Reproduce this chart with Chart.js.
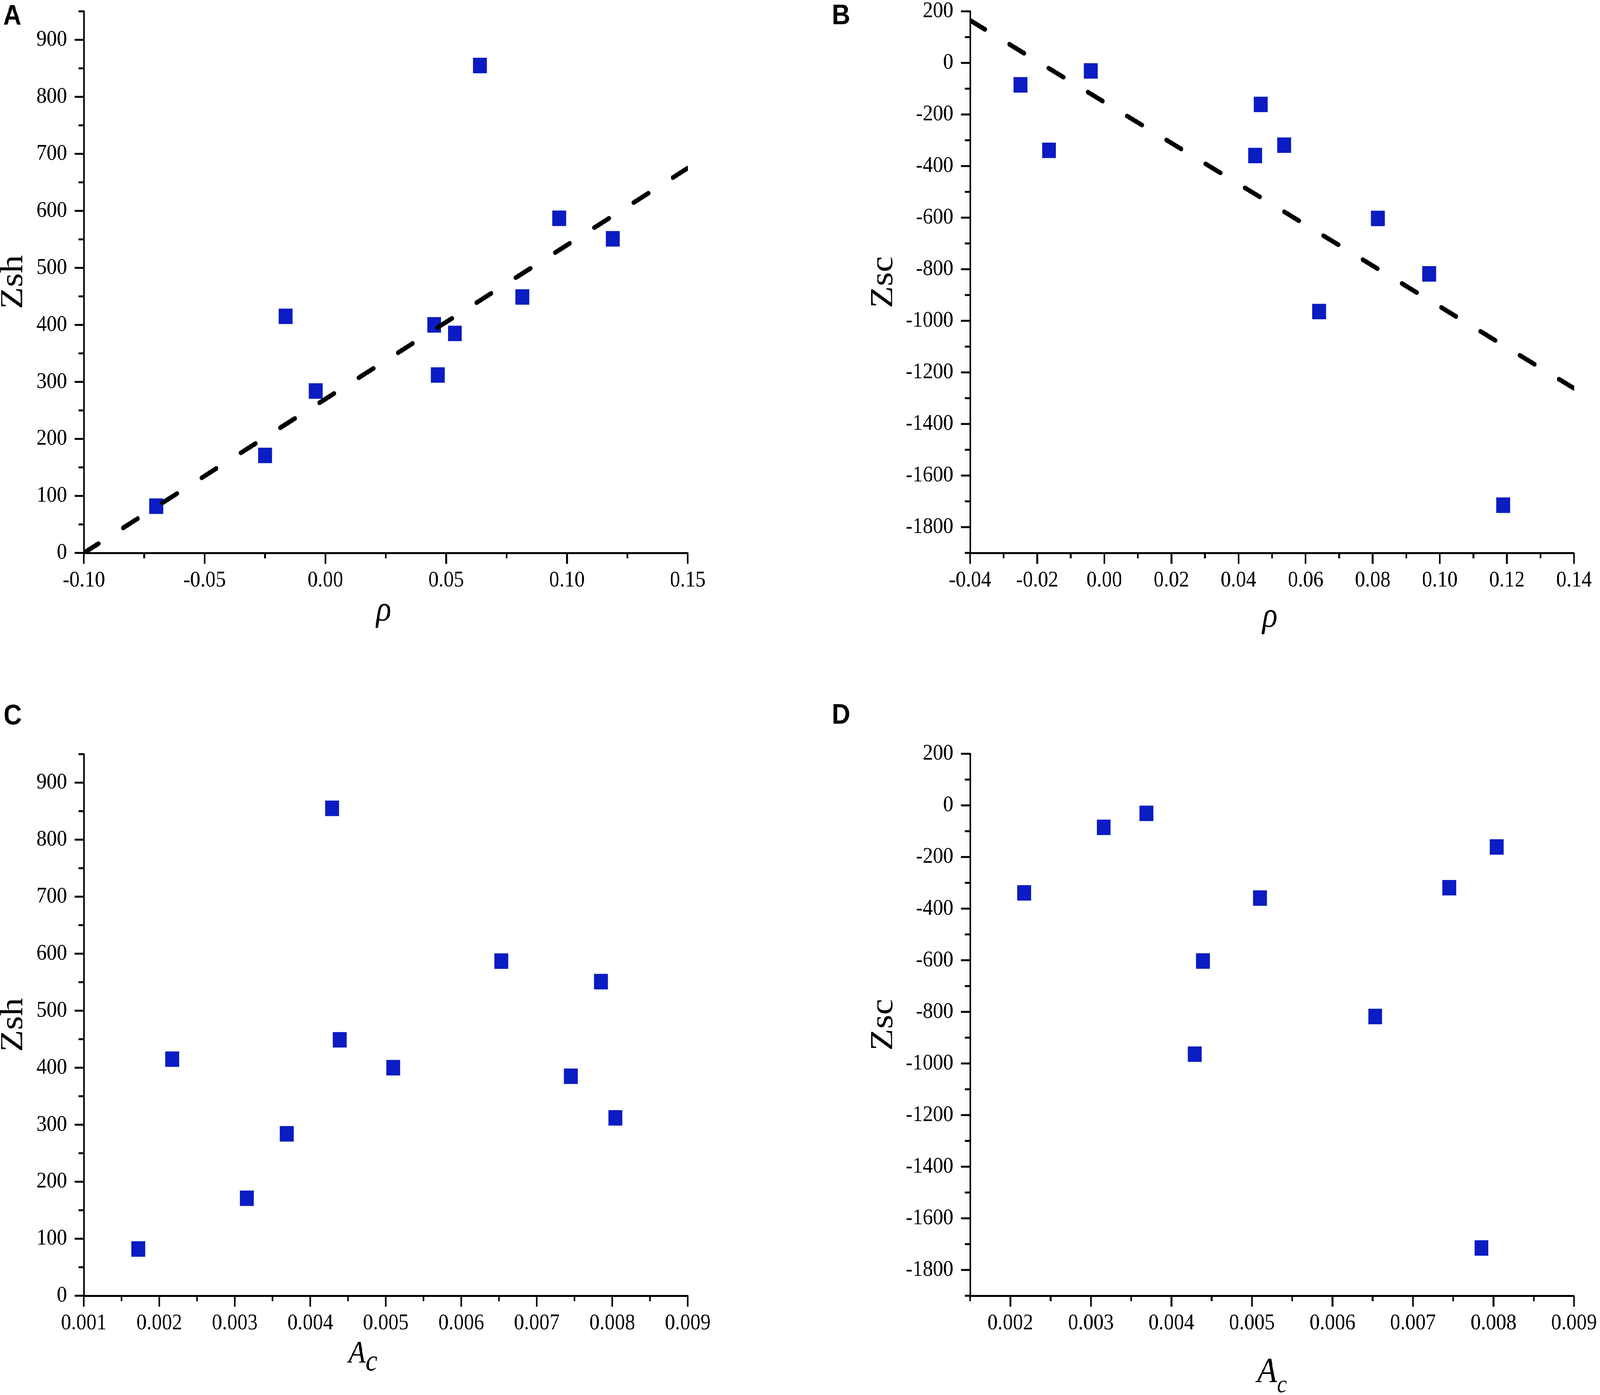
<!DOCTYPE html>
<html lang="pt-BR">
<head>
<meta charset="utf-8">
<title>Zsh e Zsc versus ρ e Ac</title>
<script src="https://cdn.jsdelivr.net/npm/chart.js@4.4.1/dist/chart.umd.min.js"></script>
<style>
    html, body { margin: 0; padding: 0; background: #fff; overflow: hidden; }
    #pagina { position: absolute; left: 0; top: 0; width: 4562px; height: 3570px; transform-origin: 0 0; background: #fff; }
    .painel { position: absolute; width: 2281px; height: 1785px; }
    #painelA { left: 0; top: 0; }
    #painelB { left: 2281px; top: 0; }
    #painelC { left: 0; top: 1785px; }
    #painelD { left: 2281px; top: 1785px; }
</style>
</head>
<body>
<div id="pagina">
    <div class="painel" id="painelA"><canvas id="chartA" width="2281" height="1785"></canvas></div>
    <div class="painel" id="painelB"><canvas id="chartB" width="2281" height="1785"></canvas></div>
    <div class="painel" id="painelC"><canvas id="chartC" width="2281" height="1785"></canvas></div>
    <div class="painel" id="painelD"><canvas id="chartD" width="2281" height="1785"></canvas></div>
</div>
<script>
/**
 * Dados das amostras
 * ======================================================================== */
const rho = [-0.070, -0.025, -0.0165, -0.004, 0.045, 0.0466, 0.0536, 0.064, 0.0815, 0.0968, 0.1189];
const ac = [0.00172, 0.00316, 0.00217, 0.00369, 0.00510, 0.00804, 0.00745, 0.00429, 0.00439, 0.00653, 0.00785];
const zsh = [82, 171, 415, 284, 400, 312, 385, 855, 449, 587, 551];
const zsc = [null, -85, -339, -31, -359, -161, -319, -964, -603, -818, -1715];

// Retas de ajuste (extremos)
const ajusteZshX = [-0.10, 0.15];
const ajusteZshY = [0, 675];
const ajusteZscX = [-0.04, 0.14];
const ajusteZscY = [165, -1262];

// Marcas dos eixos
const ticksRhoA = [-0.10, -0.05, 0.00, 0.05, 0.10, 0.15];
const ticksRhoB = [-0.04, -0.02, 0.00, 0.02, 0.04, 0.06, 0.08, 0.10, 0.12, 0.14];
const ticksAcC = [0.001, 0.002, 0.003, 0.004, 0.005, 0.006, 0.007, 0.008, 0.009];
const ticksAcD = [0.002, 0.003, 0.004, 0.005, 0.006, 0.007, 0.008, 0.009];
const ticksZsh = [0, 100, 200, 300, 400, 500, 600, 700, 800, 900];
const ticksZsc = [-1800, -1600, -1400, -1200, -1000, -800, -600, -400, -200, 0, 200];

document.addEventListener('DOMContentLoaded', function() {
    /**
     * Configurações Globais
     * ======================================================================== */
    const serif = '"Liberation Serif", "Times New Roman", Times, serif';
    const sans = '"Liberation Sans", Arial, sans-serif';
    const corPontos = '#0a1cc2';
    const fonteTicks = { family: serif, size: 58, lineHeight: 1.2 };

    // Ajusta a página de 4562x3570 à janela real (largura e altura)
    const escalaX = window.innerWidth / 4562;
    const escalaY = window.innerHeight / 3570;
    document.getElementById('pagina').style.transform = 'scale(' + escalaX + ', ' + escalaY + ')';
    const pixelRatio = (window.devicePixelRatio || 1) * Math.max(escalaX, escalaY);

    Chart.defaults.color = '#000';
    Chart.defaults.font.family = serif;

    // Marcas menores: meio de cada intervalo, e meio-passo nas pontas se couber
    const ticksMenores = (maiores, min, max) => {
        const passo = maiores[1] - maiores[0];
        const lista = [];
        const primeiro = maiores[0] - passo / 2;
        if (primeiro >= min - 1e-9) lista.push(primeiro);
        for (let i = 0; i < maiores.length - 1; i++) {
            lista.push((maiores[i] + maiores[i + 1]) / 2);
        }
        const ultimo = maiores[maiores.length - 1] + passo / 2;
        if (ultimo <= max + 1e-9) lista.push(ultimo);
        return lista;
    };

    const formata = (v, casas) => {
        if (Math.abs(v) < 1e-12) v = 0;
        return casas === 0 ? String(Math.round(v)) : v.toFixed(casas);
    };

    /**
     * Plugin: marcas, títulos dos eixos e letra do painel
     * ======================================================================== */
    const eixosPlugin = {
        id: 'eixos',
        afterDraw(chart, args, opts) {
            const ctx = chart.ctx;
            const area = chart.chartArea;
            const sx = chart.scales.x;
            const sy = chart.scales.y;

            const linha = (x1, y1, x2, y2) => {
                ctx.beginPath();
                ctx.moveTo(x1, y1);
                ctx.lineTo(x2, y2);
                ctx.stroke();
            };

            ctx.save();
            ctx.strokeStyle = '#000';
            ctx.lineWidth = 5;
            ctx.lineCap = 'butt';

            opts.yMaiores.forEach(v => {
                const y = sy.getPixelForValue(v);
                linha(area.left - 26, y, area.left, y);
            });
            ticksMenores(opts.yMaiores, sy.min, sy.max).forEach(v => {
                const y = sy.getPixelForValue(v);
                linha(area.left - 15, y, area.left, y);
            });
            opts.xMaiores.forEach(v => {
                const x = sx.getPixelForValue(v);
                linha(x, area.bottom, x, area.bottom + 28);
            });
            ticksMenores(opts.xMaiores, sx.min, sx.max).forEach(v => {
                const x = sx.getPixelForValue(v);
                linha(x, area.bottom, x, area.bottom + 14);
            });
            ctx.restore();

            // Título do eixo Y (girado)
            ctx.save();
            ctx.fillStyle = '#000';
            ctx.font = '92px ' + serif;
            ctx.textAlign = 'center';
            ctx.textBaseline = 'middle';
            ctx.translate(area.left - opts.yTitulo.offset, (area.top + area.bottom) / 2);
            ctx.rotate(-Math.PI / 2);
            ctx.fillText(opts.yTitulo.texto, 0, 0);
            ctx.restore();

            // Título do eixo X (com subscrito opcional)
            const t = opts.xTitulo;
            ctx.save();
            ctx.fillStyle = '#000';
            ctx.textAlign = 'left';
            ctx.textBaseline = 'alphabetic';
            ctx.font = t.fonte;
            const larguraTexto = ctx.measureText(t.texto).width;
            let larguraSub = 0;
            if (t.sub) {
                ctx.font = t.fonteSub;
                larguraSub = ctx.measureText(t.sub).width;
            }
            const x0 = (area.left + area.right) / 2 + t.dx - (larguraTexto + larguraSub) / 2;
            const y0 = area.bottom + t.base;
            ctx.font = t.fonte;
            ctx.fillText(t.texto, x0, y0);
            if (t.sub) {
                ctx.font = t.fonteSub;
                ctx.fillText(t.sub, x0 + larguraTexto, y0 + t.dy);
            }

            // Letra do painel
            ctx.font = 'bold 72px ' + sans;
            ctx.fillText(opts.letra.texto, opts.letra.x, opts.letra.y);
            ctx.restore();
        }
    };

    /**
     * Gráficos
     * ======================================================================== */
    const criaPontos = (xs, ys) => xs
        .map((x, i) => ({ x: x, y: ys[i] }))
        .filter(p => p.y !== null && p.y !== undefined);

    const criaEscalaX = (min, max, valores, casas, altura) => ({
        type: 'linear',
        position: 'bottom',
        min: min,
        max: max,
        afterBuildTicks: (escala) => { escala.ticks = valores.map(v => ({ value: v })); },
        afterFit: (escala) => {
            escala.height = altura;
            escala.paddingLeft = 0;
            escala.paddingRight = 0;
        },
        grid: { display: true, drawOnChartArea: false, drawTicks: false },
        border: { display: true, color: '#000', width: 5 },
        ticks: {
            autoSkip: false,
            maxRotation: 0,
            minRotation: 0,
            padding: 36,
            color: '#000',
            font: fonteTicks,
            callback: (v) => formata(v, casas)
        }
    });

    const criaEscalaY = (min, max, valores, largura) => ({
        type: 'linear',
        position: 'left',
        min: min,
        max: max,
        afterBuildTicks: (escala) => { escala.ticks = valores.map(v => ({ value: v })); },
        afterFit: (escala) => {
            escala.width = largura;
            escala.paddingTop = 0;
            escala.paddingBottom = 0;
        },
        grid: { display: true, drawOnChartArea: false, drawTicks: false },
        border: { display: true, color: '#000', width: 5 },
        ticks: {
            autoSkip: false,
            padding: 48,
            color: '#000',
            font: fonteTicks,
            callback: (v) => formata(v, 0)
        }
    });

    const initPainel = (cfg) => {
        const ctx = document.getElementById(cfg.id).getContext('2d');
        const datasets = [];

        if (cfg.ajusteX) {
            datasets.push({
                label: 'ajuste',
                data: criaPontos(cfg.ajusteX, cfg.ajusteY),
                showLine: true,
                borderColor: '#000',
                borderWidth: 12,
                borderDash: cfg.traco,
                borderCapStyle: 'round',
                pointRadius: 0,
                pointHoverRadius: 0,
                fill: false,
                order: 0
            });
        }

        datasets.push({
            label: 'amostras',
            data: criaPontos(cfg.xs, cfg.ys),
            backgroundColor: corPontos,
            borderColor: corPontos,
            borderWidth: 0,
            pointStyle: 'rect',
            pointRadius: 28,
            pointHoverRadius: 28,
            order: 1
        });

        new Chart(ctx, {
            type: 'scatter',
            data: { datasets: datasets },
            plugins: [eixosPlugin],
            options: {
                responsive: false,
                animation: false,
                devicePixelRatio: pixelRatio,
                layout: { padding: { left: 0, top: cfg.topo, right: cfg.direita, bottom: 0 } },
                plugins: {
                    legend: { display: false },
                    tooltip: { enabled: false },
                    eixos: {
                        xMaiores: cfg.ticksX,
                        yMaiores: cfg.ticksY,
                        yTitulo: cfg.yTitulo,
                        xTitulo: cfg.xTitulo,
                        letra: cfg.letra
                    }
                },
                scales: {
                    x: criaEscalaX(cfg.xMin, cfg.xMax, cfg.ticksX, cfg.casasX, cfg.alturaX),
                    y: criaEscalaY(cfg.yMin, cfg.yMax, cfg.ticksY, cfg.larguraY)
                }
            }
        });
    };

    const tituloRho = (base) => ({
        texto: 'ρ', sub: null, fonte: 'italic 90px ' + serif, fonteSub: null, dx: -6, dy: 0, base: base
    });

    /**
     * Inicialização
     * ======================================================================== */
    const initTodos = () => {
        initPainel({
            id: 'chartA', letra: { texto: 'A', x: 9, y: 63 },
            xs: rho, ys: zsh, ajusteX: ajusteZshX, ajusteY: ajusteZshY, traco: [48, 81],
            xMin: -0.10, xMax: 0.15, ticksX: ticksRhoA, casasX: 2,
            yMin: 0, yMax: 950, ticksY: ticksZsh,
            topo: 29, direita: 320, alturaX: 370, larguraY: 239,
            yTitulo: { texto: 'Zsh', offset: 200 },
            xTitulo: tituloRho(173)
        });

        initPainel({
            id: 'chartB', letra: { texto: 'B', x: 91, y: 62 },
            xs: rho, ys: zsc, ajusteX: ajusteZscX, ajusteY: ajusteZscY, traco: [48, 79.6],
            xMin: -0.04, xMax: 0.14, ticksX: ticksRhoB, casasX: 2,
            yMin: -1900, yMax: 200, ticksY: ticksZsc,
            topo: 29, direita: 74, alturaX: 370, larguraY: 485,
            yTitulo: { texto: 'Zsc', offset: 246 },
            xTitulo: tituloRho(189)
        });

        initPainel({
            id: 'chartC', letra: { texto: 'C', x: 10, y: 69 },
            xs: ac, ys: zsh,
            xMin: 0.001, xMax: 0.009, ticksX: ticksAcC, casasX: 3,
            yMin: 0, yMax: 950, ticksY: ticksZsh,
            topo: 145, direita: 320, alturaX: 254, larguraY: 239,
            yTitulo: { texto: 'Zsh', offset: 200 },
            xTitulo: {
                texto: 'A', sub: 'c', fonte: 'italic 80px ' + serif, fonteSub: 'italic 76px ' + serif,
                dx: -65, dy: 20, base: 171
            }
        });

        initPainel({
            id: 'chartD', letra: { texto: 'D', x: 91, y: 67 },
            xs: ac, ys: zsc,
            xMin: 0.0015, xMax: 0.009, ticksX: ticksAcD, casasX: 3,
            yMin: -1900, yMax: 200, ticksY: ticksZsc,
            topo: 144, direita: 74, alturaX: 254, larguraY: 485,
            yTitulo: { texto: 'Zsc', offset: 246 },
            xTitulo: {
                texto: 'A', sub: 'c', fonte: 'italic 92px ' + serif, fonteSub: 'italic 64px ' + serif,
                dx: 0, dy: 26, base: 221
            }
        });
    };

    // Garante que as fontes estejam carregadas antes de desenhar
    const fontes = [
        '58px "Liberation Serif"',
        'italic 90px "Liberation Serif"',
        'bold 72px "Liberation Sans"'
    ];
    if (document.fonts && document.fonts.load) {
        Promise.all(fontes.map(f => document.fonts.load(f))).then(initTodos, initTodos);
    } else {
        initTodos();
    }
});
</script>
</body>
</html>
